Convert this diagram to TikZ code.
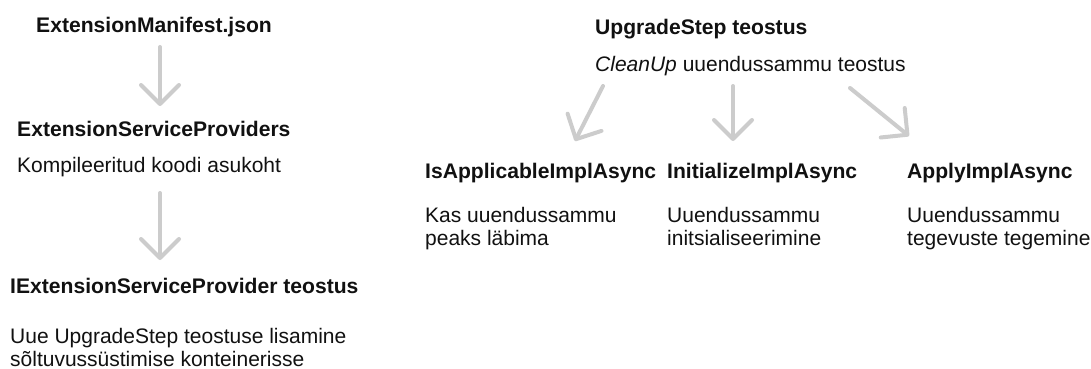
\documentclass[tikz,border=0pt]{standalone}
\usepackage{fontspec}
\setmainfont{Liberation Sans}
\usetikzlibrary{arrows.meta}
\definecolor{arrowgray}{HTML}{CCCCCC}
\definecolor{textblack}{HTML}{111111}
\begin{document}
\begin{tikzpicture}[x=1pt,y=-1pt,
  head/.style={font=\fontsize{21.1}{23}\selectfont\bfseries, text=textblack, anchor=base west, inner sep=0pt},
  body/.style={font=\fontsize{21}{23}\selectfont, text=textblack, anchor=base west, inner sep=0pt},
  flow/.style={draw=arrowgray, line width=4pt, line cap=round,
    -{Straight Barb[length=19pt, width=38pt, line width=4pt, round]}}]
\useasboundingbox[fill=white] (0,0) rectangle (1091,369);

% left column
\node[head] (manifest) at (36,33) {ExtensionManifest.json};
\node[head] (providers) at (17,136) {ExtensionServiceProviders};
\node[body] (location) at (17,172) {Kompileeritud koodi asukoht};
\node[head] (impl) at (10,293) {IExtensionServiceProvider teostus};
\node[body] (implA) at (10,343) {Uue UpgradeStep teostuse lisamine};
\node[body] (implB) at (10,366) {sõltuvussüstimise konteinerisse};

% right column
\node[head] (upgrade) at (595,35) {UpgradeStep teostus};
\node[body] (cleanup) at (595,71) {\textit{CleanUp} uuendussammu teostus};
\node[head] (isapp) at (425,178) {IsApplicableImplAsync};
\node[body] (isappA) at (425,222) {Kas uuendussammu};
\node[body] (isappB) at (425,245) {peaks läbima};
\node[head] (init) at (667,178) {InitializeImplAsync};
\node[body] (initA) at (667,222) {Uuendussammu};
\node[body] (initB) at (667,245) {initsialiseerimine};
\node[head] (apply) at (907,178) {ApplyImplAsync};
\node[body] (applyA) at (907,222) {Uuendussammu};
\node[body] (applyB) at (907,245) {tegevuste tegemine};

% connector end points
\coordinate (a1s) at (160,47);
\coordinate (a1e) at (160,106);
\coordinate (a2s) at (160,193);
\coordinate (a2e) at (160,260);
\coordinate (a3s) at (603,86);
\coordinate (a3e) at (575,141);
\coordinate (a4s) at (733,86);
\coordinate (a4e) at (733,141);
\coordinate (a5s) at (850,88);
\coordinate (a5e) at (909,136);

\draw[flow] (a1s) -- (a1e);
\draw[flow] (a2s) -- (a2e);
\draw[flow] (a3s) -- (a3e);
\draw[flow] (a4s) -- (a4e);
\draw[flow] (a5s) -- (a5e);
\end{tikzpicture}
\end{document}
